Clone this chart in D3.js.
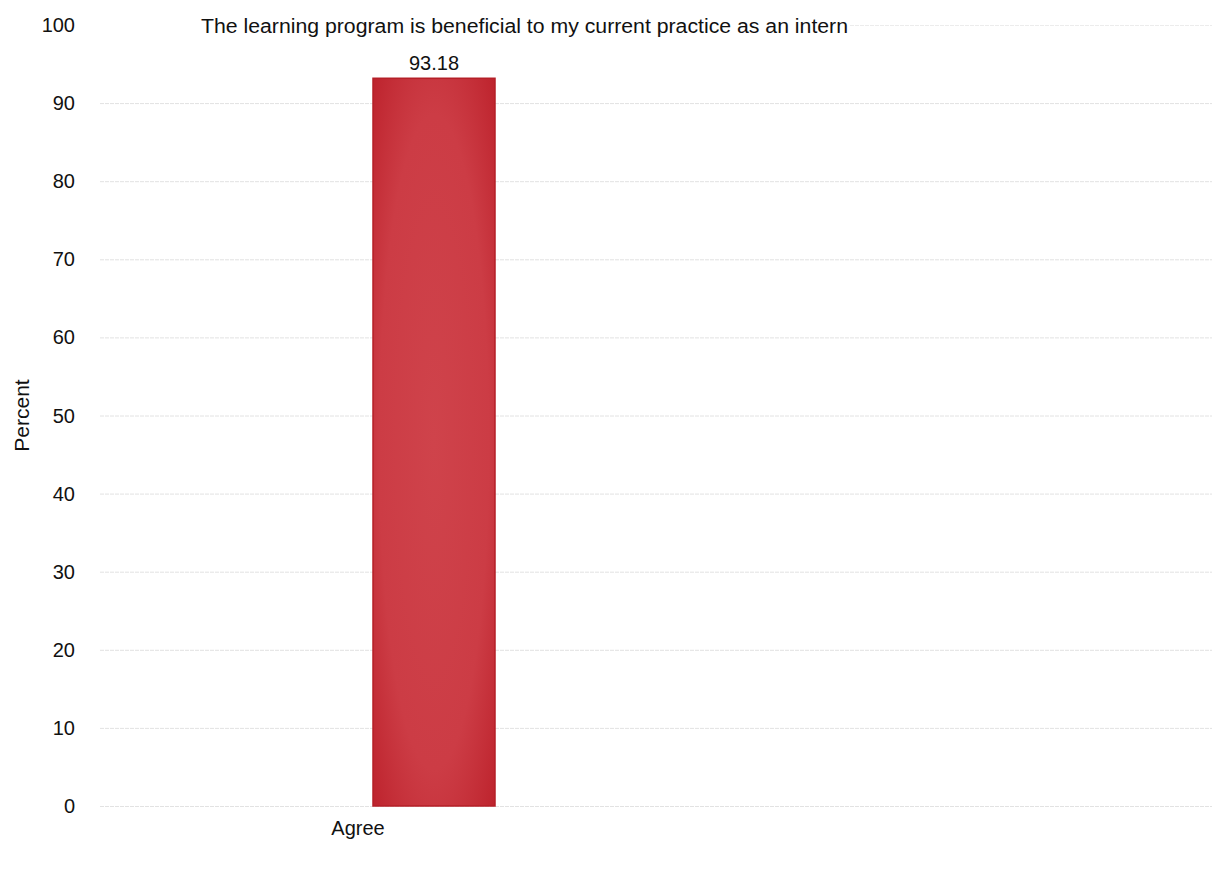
<!DOCTYPE html>
<html><head><meta charset="utf-8">
<script src="https://cdn.jsdelivr.net/npm/d3@7"></script>
<style>body{margin:0;background:#fff;} text{font-family:"Liberation Sans",Arial,sans-serif;fill:#111;}</style>
</head><body>
<svg id="c" width="1214" height="872"></svg>
<script>
const title = "The learning program is beneficial to my current practice as an intern";
const categories = ["Agree"];
const values = [93.18];
const valueLabels = ["93.18"];
const yTicks = [0,10,20,30,40,50,60,70,80,90,100];
const yLabel = "Percent";

const svg = d3.select("#c");
const y = d3.scaleLinear().domain([0,100]).range([806,25]);
const x = d3.scaleBand().domain(categories).range([373,495]).padding(0);

// gridlines
svg.append("g").selectAll("line").data(yTicks.filter(t=>t<100)).join("line")
  .attr("x1",100).attr("x2",1212)
  .attr("y1",d=>y(d)+0.5).attr("y2",d=>y(d)+0.5)
  .attr("stroke","#e2e2e2").attr("stroke-width",1).attr("stroke-dasharray","4,1");
svg.append("line").attr("x1",850).attr("x2",1212).attr("y1",y(100)+0.5).attr("y2",y(100)+0.5)
  .attr("stroke","#ececec").attr("stroke-dasharray","4,1");

// y tick labels
svg.append("g").selectAll("text").data(yTicks).join("text")
  .attr("x",75).attr("y",d=>y(d)).attr("dy","0.35em").attr("text-anchor","end")
  .attr("font-size",20).text(d=>d);

// y label
svg.append("text").attr("transform","translate(29,"+y(50)+") rotate(-90)")
  .attr("text-anchor","middle").attr("font-size",21).text(yLabel);

// gradient
const defs = svg.append("defs");
const g = defs.append("radialGradient").attr("id","bg").attr("cx","50%").attr("cy","50%").attr("r","75%");
g.append("stop").attr("offset","0%").attr("stop-color","#cf434b");
g.append("stop").attr("offset","60%").attr("stop-color","#cc3c45");
g.append("stop").attr("offset","100%").attr("stop-color","#bb1f29");

svg.append("g").selectAll("rect").data(values).join("rect")
  .attr("x",(d,i)=>x(categories[i])).attr("width",x.bandwidth())
  .attr("y",d=>y(d)).attr("height",d=>y(0)-y(d))
  .attr("fill","url(#bg)").attr("stroke","#b51f27").attr("stroke-width",1.5);

// value labels
svg.append("g").selectAll("text").data(values).join("text")
  .attr("x",(d,i)=>x(categories[i])+x.bandwidth()/2).attr("y",d=>y(d)-15)
  .attr("dy","0.35em").attr("text-anchor","middle").attr("font-size",20).text((d,i)=>valueLabels[i]);

// category labels
svg.append("g").selectAll("text").data(categories).join("text")
  .attr("x",d=>x(d)+x.bandwidth()/2-76).attr("y",835)
  .attr("text-anchor","middle").attr("font-size",20).text(d=>d);

// title
svg.append("text").attr("x",201).attr("y",y(100)+1).attr("dy","0.35em")
  .attr("font-size",20).attr("textLength",647).attr("lengthAdjust","spacingAndGlyphs").text(title);
</script>
</body></html>
